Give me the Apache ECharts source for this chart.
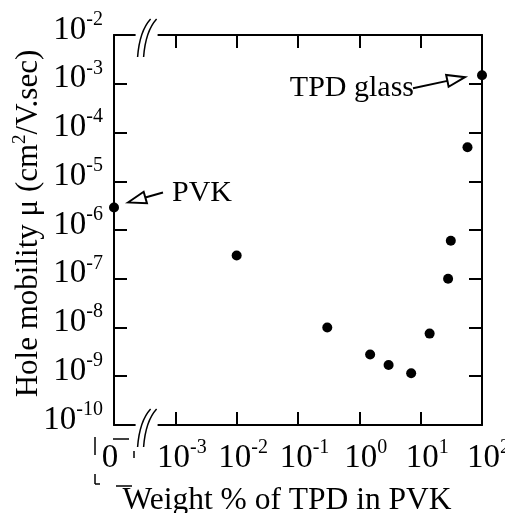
<!DOCTYPE html>
<html>
<head>
<meta charset="utf-8">
<script src="https://cdn.jsdelivr.net/npm/echarts@6/dist/echarts.min.js"></script>
<style>
  html, body { margin: 0; padding: 0; background: #fff; }
  #chart { width: 505px; height: 513px; }
</style>
</head>
<body>
<div id="chart"></div>
<script>
// weight % of TPD in PVK (0 = pure PVK, sits in the "0" slot left of the axis break)
const weightPct = [0, 0.01, 0.3, 1.5, 3, 7, 14, 28, 31, 58, 100]
// hole mobility (cm2/V.sec)
const mobility = [2.9e-6, 3e-7, 1e-8, 2.8e-9, 1.7e-9, 1.15e-9, 7.5e-9, 1e-7, 6e-7, 5e-5, 1.5e-3]
const xRange = [1e-4, 1e2]
const yRange = [1e-10, 1e-2]
const zeroSlot = 1e-4   // "0" is drawn one decade left of 10^-3
const breakAt = 3.4e-4  // where the // marks go

const font = 'Liberation Serif, "Times New Roman", serif'

const base = { fontFamily: font, fontSize: 33, color: '#000', lineHeight: 33, verticalAlign: 'bottom' }
const sup = { fontFamily: font, fontSize: 20, color: '#000', lineHeight: 20, verticalAlign: 'bottom', padding: [0, 0, 17, 0] }
const tickRich = {
  p: { width: 13 },
  b: base,
  z: Object.assign({}, base, { padding: [0, 8, 0, 0] }),
  s: sup
}

function expOf(v) {
  return Math.round(Math.log10(v))
}

const axisLine = { show: true, lineStyle: { color: '#000', width: 2 } }
const axisTick = { show: true, inside: true, length: 13, lineStyle: { color: '#000', width: 2 } }

const option = {
  backgroundColor: '#fff',
  animation: false,
  grid: { left: 114, right: 23, top: 35, bottom: 88, outerBoundsMode: 'none', containLabel: false },
  xAxis: [
    {
      type: 'log',
      logBase: 10,
      min: xRange[0],
      max: xRange[1],
      position: 'bottom',
      axisLine: axisLine,
      axisTick: axisTick,
      splitLine: { show: false },
      axisLabel: {
        margin: 17,
        showMinLabel: true,
        showMaxLabel: true,
        hideOverlap: false,
        rich: tickRich,
        formatter: function(v) {
          if (v <= zeroSlot * 1.01) return '{z|0}'
          return '{p|}{b|10}{s|' + expOf(v) + '}'
        }
      },
      name: 'Weight % of TPD in PVK',
      nameLocation: 'middle',
      nameGap: 60,
      nameTextStyle: { fontFamily: font, fontSize: 31.5, color: '#000', padding: [0, 22, 0, 0] }
    },
    {
      type: 'log',
      logBase: 10,
      min: xRange[0],
      max: xRange[1],
      position: 'top',
      axisLine: axisLine,
      axisTick: axisTick,
      axisLabel: { show: false },
      splitLine: { show: false }
    }
  ],
  yAxis: [
    {
      type: 'log',
      logBase: 10,
      min: yRange[0],
      max: yRange[1],
      position: 'left',
      axisLine: axisLine,
      axisTick: axisTick,
      splitLine: { show: false },
      axisLabel: {
        margin: 11,
        showMinLabel: true,
        showMaxLabel: true,
        hideOverlap: false,
        padding: [0, 0, 10, 0],
        rich: tickRich,
        formatter: function(v) {
          return '{b|10}{s|' + expOf(v) + '}'
        }
      },
      name: '{t|Hole mobility μ (cm}{u|2}{t|/V.sec)}',
      nameLocation: 'middle',
      nameMoveOverlap: false,
      nameGap: 70,
      nameTextStyle: {
        padding: [0, 0, 0, 13],
        rich: {
          t: { fontFamily: font, fontSize: 31, color: '#000', lineHeight: 31, verticalAlign: 'bottom' },
          u: { fontFamily: font, fontSize: 19, color: '#000', lineHeight: 19, verticalAlign: 'bottom', padding: [0, 0, 14, 0] }
        }
      }
    },
    {
      type: 'log',
      logBase: 10,
      min: yRange[0],
      max: yRange[1],
      position: 'right',
      axisLine: axisLine,
      axisTick: axisTick,
      axisLabel: { show: false },
      splitLine: { show: false }
    }
  ],
  series: [
    {
      type: 'scatter',
      xAxisIndex: 0,
      yAxisIndex: 0,
      symbol: 'circle',
      symbolSize: 10,
      clip: false,
      itemStyle: { color: '#000', opacity: 1 },
      data: weightPct.map((w, i) => [w === 0 ? zeroSlot : w, mobility[i]])
    }
  ]
}

const chart = echarts.init(document.getElementById('chart'))
chart.setOption(option)

const px = (x, y) => chart.convertToPixel({ seriesIndex: 0 }, [x, y])

function arrow(tail, tip, head, halfW) {
  const dx = tip[0] - tail[0], dy = tip[1] - tail[1]
  const len = Math.hypot(dx, dy), ux = dx / len, uy = dy / len
  const bx = tip[0] - ux * head, by = tip[1] - uy * head
  const nx = -uy * halfW, ny = ux * halfW
  return [
    { type: 'line', z: 100, shape: { x1: tail[0], y1: tail[1], x2: bx, y2: by }, style: { stroke: '#000', lineWidth: 2 } },
    { type: 'polygon', z: 100, shape: { points: [[tip[0], tip[1]], [bx + nx, by + ny], [bx - nx, by - ny]] }, style: { fill: '#fff', stroke: '#000', lineWidth: 2 } }
  ]
}

function axisBreak(bx, ay) {
  return [
    { type: 'rect', z: 100, shape: { x: bx - 11, y: ay - 3, width: 22, height: 6 }, style: { fill: '#fff' } },
    { type: 'bezierCurve', z: 101, shape: { x1: bx - 9, y1: ay + 22, x2: bx + 4, y2: ay - 16, cpx1: bx - 7, cpy1: ay - 4 }, style: { stroke: '#000', lineWidth: 1.5, fill: null } },
    { type: 'bezierCurve', z: 101, shape: { x1: bx - 3, y1: ay + 22, x2: bx + 10, y2: ay - 16, cpx1: bx - 1, cpy1: ay - 4 }, style: { stroke: '#000', lineWidth: 1.5, fill: null } }
  ]
}

function seg(x1, y1, x2, y2) {
  return { type: 'line', z: 100, shape: { x1, y1, x2, y2 }, style: { stroke: '#000', lineWidth: 1.5 } }
}

const pvk = px(zeroSlot, mobility[0])
const glass = px(weightPct[weightPct.length - 1], mobility[mobility.length - 1])
const topLeft = px(breakAt, yRange[1])
const botLeft = px(breakAt, yRange[0])
const corner = px(xRange[0], yRange[0])
const L = corner[0], B = corner[1]

const elements = []
  .concat(arrow([pvk[0] + 49, pvk[1] - 15], [pvk[0] + 14, pvk[1] - 5], 18, 6))
  .concat(arrow([glass[0] - 69, glass[1] + 13], [glass[0] - 17, glass[1] + 2], 18, 6))
  .concat(axisBreak(topLeft[0], topLeft[1]))
  .concat(axisBreak(botLeft[0], botLeft[1]))
  .concat([
    { type: 'text', z: 100, style: { text: 'PVK', x: pvk[0] + 58, y: pvk[1] - 14, font: '30px ' + font, fill: '#000', verticalAlign: 'middle' } },
    { type: 'text', z: 100, style: { text: 'TPD glass', x: glass[0] - 68, y: glass[1] + 13, font: '30px ' + font, fill: '#000', align: 'right', verticalAlign: 'middle' } },
    // bracket marks round the "0" slot, as printed
    seg(L - 19, B + 12, L - 19, B + 30),
    seg(L - 1, B + 14, L + 15, B + 14),
    seg(L + 20, B + 26, L + 20, B + 33),
    seg(L - 19, B + 49, L - 19, B + 59),
    seg(L - 19, B + 59, L - 14, B + 59),
    seg(L + 2, B + 61, L + 18, B + 61)
  ])

chart.setOption({ graphic: { elements: elements } })
</script>
</body>
</html>
